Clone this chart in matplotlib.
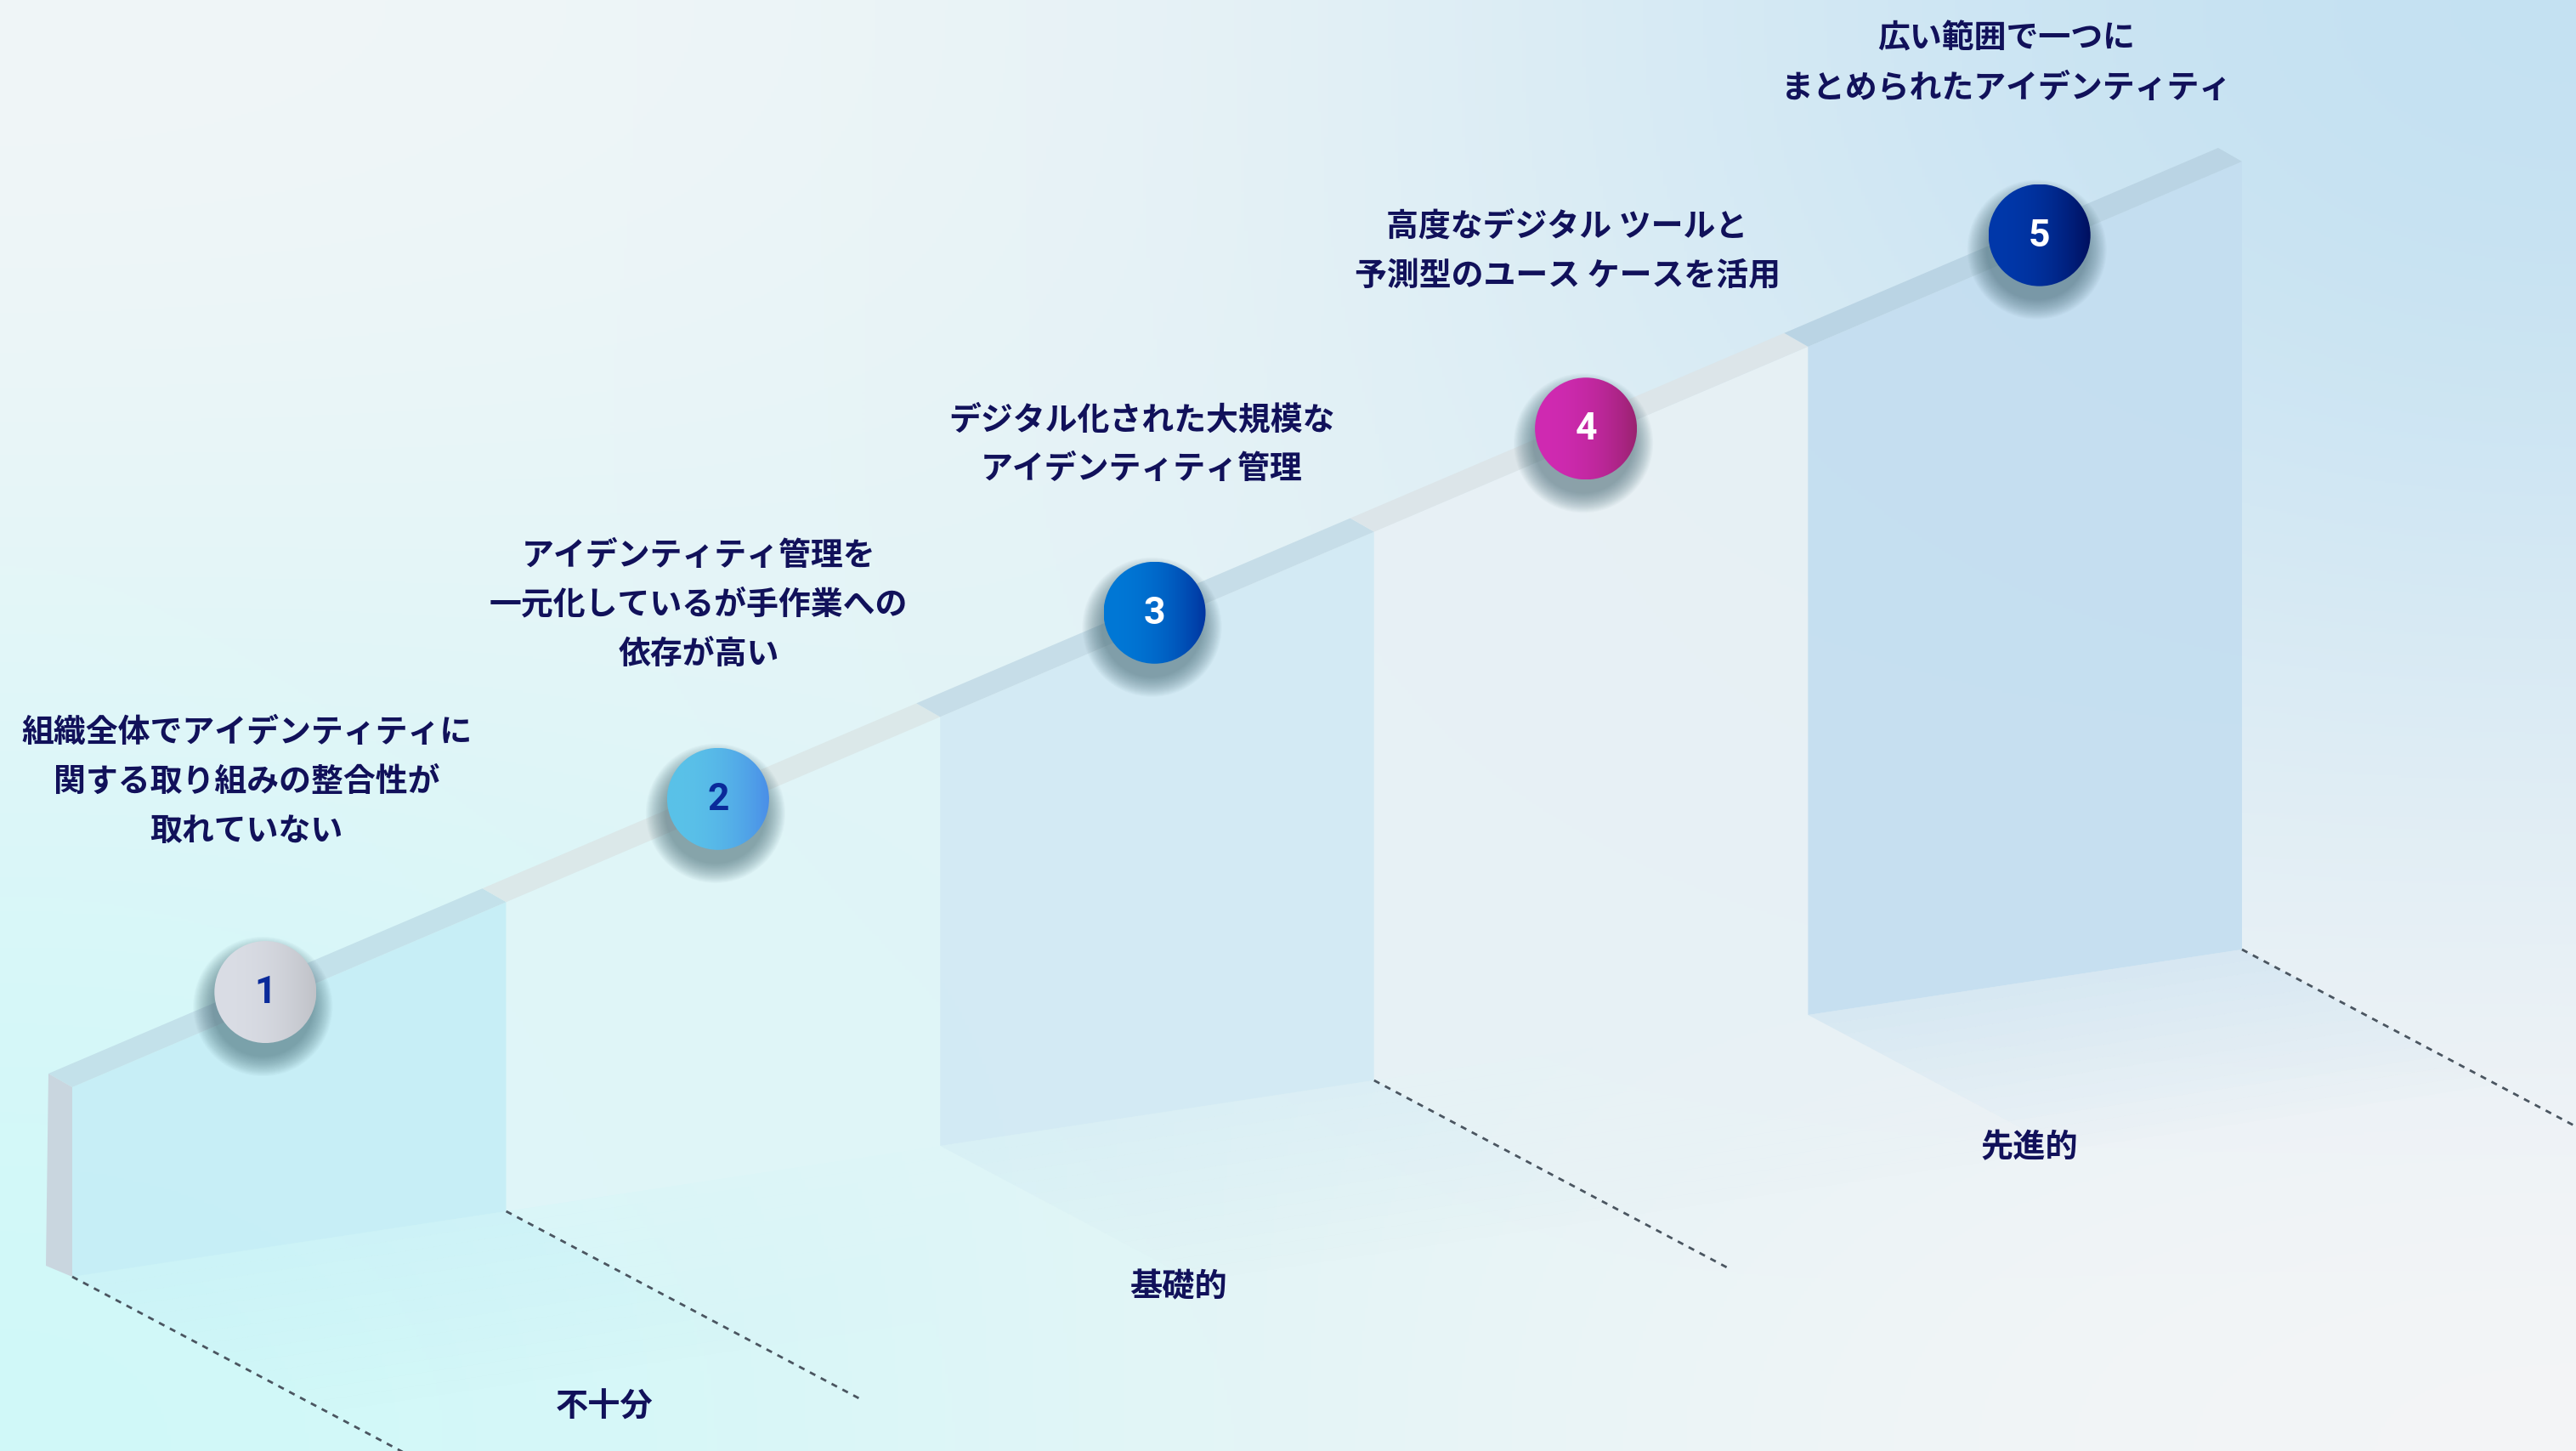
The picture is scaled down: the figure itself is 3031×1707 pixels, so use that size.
import numpy as np
import matplotlib.pyplot as plt
from matplotlib.patches import Polygon, Circle
from matplotlib.colors import to_rgb

plt.rcParams['font.family'] = ['Noto Sans CJK JP', 'DejaVu Sans']

# maturity stages, left to right
stages = [1, 2, 3, 4, 5]
stage_text = [
    ["組織全体でアイデンティティに", "関する取り組みの整合性が", "取れていない"],
    ["アイデンティティ管理を", "一元化しているが手作業への", "依存が高い"],
    ["デジタル化された大規模な", "アイデンティティ管理"],
    ["高度なデジタル ツールと", "予測型のユース ケースを活用"],
    ["広い範囲で一つに", "まとめられたアイデンティティ"],
]

# floor groups and the stages they cover
levels = ["不十分", "基礎的", "先進的"]
level_first = [1, 2, 4]
level_last = [1, 3, 5]

# colours
panel_colors = ['#c6eef6', '#e0f5f8', '#d2eaf4', '#e8f1f5', '#c4def0']
cap_colors = ['#c3e1ea', '#dbe8e9', '#c6dde8', '#dce5e9', '#bad4e4']
ball_left = ['#dadde5', '#5ac2e8', '#0078d6', '#d02ab2', '#0038aa']
ball_right = ['#c0c2c8', '#4a8ee8', '#0034a0', '#9a2270', '#000f5e']
digit_colors = ['#0a2a9a', '#0a2a9a', 'white', 'white', 'white']
text_color = '#11115a'

# layout in pixels
W, H = 3031, 1707
X0, STEP = 85, 510.6
TOP0, RISE = 1279, 217.8
BOT0, BOT_RISE = 1502, 77
CAP_DX, CAP_DY = -28, -16
FLOOR_SLOPE = 0.53
R = 60
ball_dx = [-28, -6, -3, -6, 17]
text_dx = [-50, -29, -18, -28, -22]
text_dy = [0, 10, 10, 0, -3]
level_depth = [371, 280, 260]
level_dy = [-5, 18, 18]


def x_at(k):
    return X0 + k * STEP


def top_at(k):
    return TOP0 - k * RISE


def bot_at(k):
    return BOT0 - k * BOT_RISE


fig = plt.figure(figsize=(W / 100, H / 100), dpi=100)
ax = fig.add_axes([0, 0, 1, 1])
ax.axis('off')

# background wash
bg = np.array([
    [to_rgb('#f1f6f8'), to_rgb('#e8f3f6'), to_rgb('#c2e0f2')],
    [to_rgb('#def6f8'), to_rgb('#e4f2f6'), to_rgb('#dcecf4')],
    [to_rgb('#cff9f9'), to_rgb('#e6f4f6'), to_rgb('#f5f5f7')],
])
ax.imshow(bg, extent=(0, W, H, 0), interpolation='bicubic', zorder=0)

# floor slabs fading away from each panel
for i in range(len(stages)):
    xl, xr = x_at(i), x_at(i + 1)
    bl, br = bot_at(i), bot_at(i + 1)
    nb = 14
    for b in range(nb):
        d0, d1 = 300 * b / nb, 300 * (b + 1) / nb
        quad = [(xl + d0, bl + d0 * FLOOR_SLOPE), (xr + d0, br + d0 * FLOOR_SLOPE),
                (xr + d1, br + d1 * FLOOR_SLOPE), (xl + d1, bl + d1 * FLOOR_SLOPE)]
        ax.add_patch(Polygon(quad, closed=True, facecolor=panel_colors[i],
                             edgecolor='none', alpha=0.45 * (1 - b / nb), zorder=1))

# front faces and top caps
for i in range(len(stages)):
    xl, xr = x_at(i), x_at(i + 1)
    face = [(xl, top_at(i)), (xr, top_at(i + 1)), (xr, bot_at(i + 1)), (xl, bot_at(i))]
    ax.add_patch(Polygon(face, closed=True, facecolor=panel_colors[i],
                         edgecolor='none', alpha=0.92, zorder=2))
    cap = [(xl, top_at(i)), (xr, top_at(i + 1)),
           (xr + CAP_DX, top_at(i + 1) + CAP_DY), (xl + CAP_DX, top_at(i) + CAP_DY)]
    ax.add_patch(Polygon(cap, closed=True, facecolor=cap_colors[i],
                         edgecolor='none', zorder=3))

# left side face of the first panel
side = [(x_at(0) + CAP_DX, top_at(0) + CAP_DY), (x_at(0), top_at(0)),
        (x_at(0), bot_at(0)), (x_at(0) + CAP_DX - 3, bot_at(0) - 13)]
ax.add_patch(Polygon(side, closed=True, facecolor='#c9d6df', edgecolor='none', zorder=3))

# dotted floor dividers at the group boundaries
bounds = [level_first[0] - 1] + level_last
for k in bounds:
    xs = np.array([x_at(k), x_at(k) + 415])
    ys = bot_at(k) + (xs - x_at(k)) * FLOOR_SLOPE
    ax.plot(xs, ys, color='#4a5560', lw=2.0, dashes=(2.6, 2.6), zorder=4)

# group labels on the floor
for name, f, l, d, dy in zip(levels, level_first, level_last, level_depth, level_dy):
    kc = (f - 1 + l) / 2
    ax.text(x_at(kc) + d, bot_at(kc) + d * FLOOR_SLOPE + dy, name,
            ha='center', va='center', fontsize=27.5, fontweight='bold',
            color=text_color, zorder=6)

# stage markers with their descriptions
g = np.linspace(0, 1, 256) ** 2.2
for i, s in enumerate(stages):
    mid = x_at(i + 0.5)
    cx = mid + ball_dx[i]
    cy = top_at(i + 0.5 + ball_dx[i] / STEP) - 15

    for j in range(20):
        rr = 82 - j * 1.2
        ax.add_patch(Circle((cx - 3, cy + 17), rr, facecolor='#3f6470',
                            edgecolor='none', alpha=0.035, zorder=5))

    c0, c1 = np.array(to_rgb(ball_left[i])), np.array(to_rgb(ball_right[i]))
    img = (c0[None, :] * (1 - g[:, None]) + c1[None, :] * g[:, None])[None, :, :]
    im = ax.imshow(img, extent=(cx - R, cx + R, cy + R, cy - R),
                   interpolation='bilinear', zorder=6)
    im.set_clip_path(Circle((cx, cy), R, transform=ax.transData))

    ax.text(cx, cy + 1, str(s), ha='center', va='center', fontsize=32,
            fontweight='bold', family=['Roboto', 'DejaVu Sans'],
            color=digit_colors[i], zorder=7)

    lines = stage_text[i]
    n = len(lines)
    for j, line in enumerate(lines):
        ax.text(mid + text_dx[i], top_at(i + 0.5) - 193 + text_dy[i] - (n - 1 - j) * 58,
                line, ha='center', va='center', fontsize=27.3, fontweight='bold',
                color=text_color, zorder=7)

ax.set_xlim(0, W)
ax.set_ylim(H, 0)
ax.set_aspect('auto')

fig.savefig('out.png', dpi=100)
